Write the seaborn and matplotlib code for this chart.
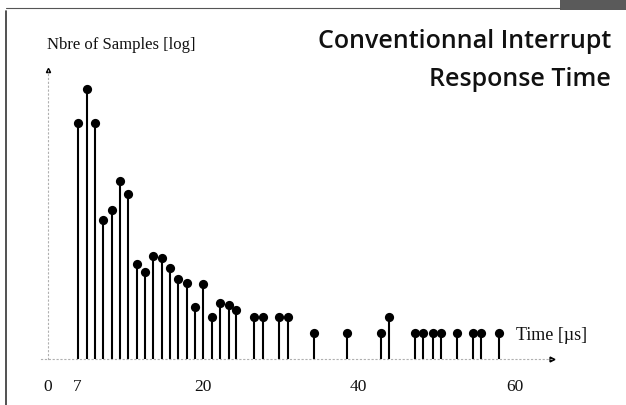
import numpy as np
import matplotlib
matplotlib.use("Agg")
import matplotlib.pyplot as plt
from matplotlib.lines import Line2D
from matplotlib.patches import Rectangle
import seaborn as sns

# ===============================
# Data
# ===============================
time_us = [7.0, 7.95, 8.8, 9.6, 10.6, 11.4, 12.2, 13.2, 14.0, 14.8,
           15.8, 16.6, 17.4, 18.3, 19.2, 20.0, 21.2, 22.2, 23.3, 24.3,
           26.6, 27.7, 29.8, 31.0, 34.3, 38.6, 42.9, 44.0, 47.3, 48.3,
           49.5, 50.6, 52.6, 54.7, 55.7, 58.0]
samples = [23400, 100000, 23400, 375, 574, 1980, 1136, 57, 41, 81,
           74, 48, 30, 26, 9, 24, 6, 11, 10, 8,
           6, 6, 6, 6, 3, 3, 3, 6, 3, 3,
           3, 3, 3, 3, 3, 3]
tick_pos = [0, 7, 20, 40, 60]
tick_labels = ["0", "7", "20", "40", "60"]

W, H = 626, 406

# the hand drawn axis is not evenly spaced: piecewise scale through the ticks
knot_data = [-20, 0, 7, 20, 40, 60, 100]
knot_px = [-108.5, 47.5, 77.5, 203, 358, 515, 829]


def fwd(x):
    return np.interp(x, knot_data, knot_px)


def inv(p):
    return np.interp(p, knot_px, knot_data)


sns.set_theme(style="white")
plt.rcParams["font.family"] = ["Liberation Serif", "DejaVu Serif"]

fig = plt.figure(figsize=(W / 100, H / 100), dpi=100)
base_px = 360
ax = fig.add_axes([0, (H - base_px) / H, 1, base_px / H])
ax.set_facecolor("none")

ax.set_xscale("function", functions=(fwd, inv))
ax.set_yscale("log")
px_per_decade = 54
ax.set_xlim(inv(0), inv(W))
ax.set_ylim(1, 10 ** (base_px / px_per_decade))

# stems + heads
ax.vlines(time_us, 1, samples, color="black", lw=1.5, zorder=2)
sns.scatterplot(x=time_us, y=samples, color="black", s=44, edgecolor="black",
                linewidth=0, zorder=3, ax=ax, legend=False, clip_on=False)

# axes: faint dotted lines with small arrow heads
y_top = 10 ** (289 / px_per_decade)
x_end = inv(552)
for s in ["top", "right"]:
    ax.spines[s].set_visible(False)
ax.spines["left"].set_position(("data", 0))
ax.spines["left"].set_bounds(1, y_top)
ax.spines["bottom"].set_bounds(-0.8, x_end)
for s in ["left", "bottom"]:
    ax.spines[s].set_linestyle((0, (1, 2.5)))
    ax.spines[s].set_color("#b0b0b0")
    ax.spines[s].set_linewidth(0.8)
ax.plot([0], [y_top], marker="^", ms=3, color="black", clip_on=False)
ax.plot([x_end], [1], marker=">", ms=3.5, color="black", clip_on=False)

ax.set_xticks(tick_pos)
ax.set_xticklabels(tick_labels, fontsize=12.5)
ax.set_yticks([])
ax.minorticks_off()
ax.tick_params(axis="x", length=0, pad=14, colors="#111111")
ax.tick_params(axis="y", which="both", left=False, labelleft=False)

# labels
fig.text(47 / W, 1 - 45 / H, "Nbre of Samples [log]", fontsize=12,
         va="center", ha="left", color="#111111")
fig.text(516 / W, 1 - 336 / H, "Time [\u00b5s]", fontsize=13,
         va="center", ha="left", color="#111111")
fig.text(611 / W, 1 - 42 / H, "Conventionnal Interrupt", fontsize=18,
         family=["Open Sans", "DejaVu Sans"], weight="semibold",
         va="center", ha="right", color="#111111")
fig.text(611 / W, 1 - 80 / H, "Response Time", fontsize=18,
         family=["Open Sans", "DejaVu Sans"], weight="semibold",
         va="center", ha="right", color="#111111")

# scanned page frame
fig.add_artist(Line2D([6 / W, 6 / W], [0, 1 - 12 / H], color="#333333", lw=1.2))
fig.add_artist(Line2D([6 / W, 560 / W], [1 - 9 / H, 1 - 9 / H], color="#555555", lw=0.8))
fig.add_artist(Rectangle((560 / W, 1 - 11 / H), 66 / W, 11 / H,
                         transform=fig.transFigure, color="#5a5a5a", lw=0))

fig.savefig("out.png", dpi=100)
